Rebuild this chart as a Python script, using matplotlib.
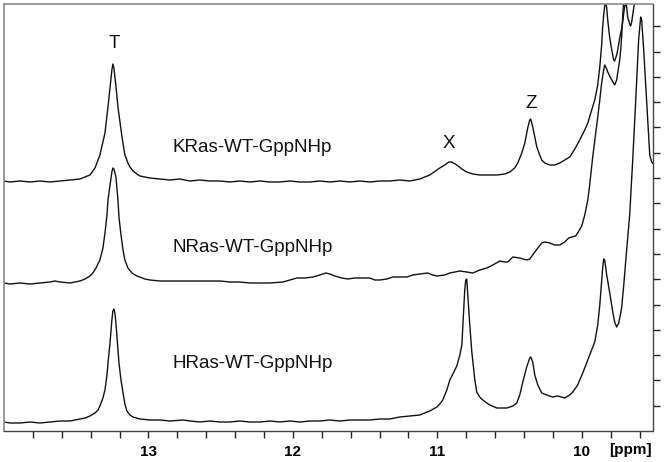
import matplotlib
matplotlib.use("Agg")
import matplotlib.pyplot as plt
import numpy as np

plt.rcParams['font.family'] = ['Liberation Sans', 'DejaVu Sans']

# ---------------- data (chemical shift in ppm, intensity in arbitrary units) -------------
k_ppm = [14.000, 13.958, 13.889, 13.820, 13.751, 13.682, 13.612, 13.543, 13.474, 13.439,
         13.405, 13.370, 13.336, 13.315, 13.301, 13.280, 13.266, 13.253, 13.246, 13.239,
         13.225, 13.211, 13.197, 13.183, 13.163, 13.142, 13.128, 13.107, 13.080, 13.059,
         13.024, 12.990, 12.920, 12.851, 12.782, 12.713, 12.644, 12.574, 12.505, 12.436,
         12.367, 12.298, 12.228, 12.159, 12.090, 12.021, 11.952, 11.882, 11.813, 11.744,
         11.675, 11.606, 11.536, 11.467, 11.398, 11.329, 11.260, 11.190, 11.121, 11.052,
         10.983, 10.948, 10.920, 10.900, 10.865, 10.830, 10.796, 10.754, 10.706, 10.637,
         10.588, 10.533, 10.498, 10.464, 10.443, 10.415, 10.394, 10.374, 10.360, 10.353,
         10.339, 10.325, 10.311, 10.291, 10.277, 10.256, 10.221, 10.187, 10.152, 10.118,
         10.083, 10.048, 10.014, 9.979, 9.958, 9.931, 9.910, 9.889, 9.875, 9.862,
         9.855, 9.848, 9.841, 9.834, 9.827, 9.820, 9.806, 9.792, 9.779, 9.772,
         9.758, 9.751, 9.737, 9.723, 9.716, 9.709, 9.702, 9.695, 9.689, 9.682,
         9.668, 9.661, 9.654, 9.647, 9.640, 9.633, 9.626, 9.612, 9.571, 9.502]
k_int = [250, 249, 250, 249, 250, 249, 250, 251, 252, 254,
         256, 263, 276, 289, 298, 324, 343, 361, 367, 363,
         345, 324, 309, 294, 276, 268, 264, 260, 257, 255,
         254, 253, 252, 251, 252, 250, 251, 250, 250, 249,
         250, 249, 250, 249, 249, 250, 249, 249, 250, 249,
         250, 249, 250, 249, 250, 250, 251, 250, 252, 256,
         263, 266, 269, 269, 266, 262, 259, 257, 256, 256,
         256, 257, 259, 263, 268, 278, 288, 303, 311, 312,
         304, 294, 284, 276, 271, 268, 266, 266, 268, 271,
         274, 282, 291, 301, 308, 321, 331, 346, 364, 386,
         404, 416, 425, 430, 423, 411, 393, 381, 371, 370,
         376, 381, 393, 403, 409, 418, 425, 429, 424, 414,
         407, 405, 409, 416, 423, 429, 436, 451, 471, 491]

n_ppm = [14.000, 13.958, 13.889, 13.820, 13.751, 13.682, 13.647, 13.612, 13.543, 13.474,
         13.439, 13.405, 13.384, 13.363, 13.336, 13.315, 13.301, 13.287, 13.280, 13.266,
         13.253, 13.246, 13.239, 13.225, 13.211, 13.204, 13.190, 13.176, 13.163, 13.142,
         13.114, 13.080, 13.024, 12.990, 12.920, 12.830, 12.713, 12.644, 12.574, 12.505,
         12.436, 12.367, 12.298, 12.228, 12.159, 12.069, 12.021, 11.972, 11.917, 11.862,
         11.813, 11.772, 11.744, 11.709, 11.661, 11.619, 11.571, 11.522, 11.467, 11.433,
         11.398, 11.349, 11.308, 11.260, 11.211, 11.170, 11.121, 11.066, 11.031, 11.003,
         10.948, 10.913, 10.879, 10.844, 10.796, 10.754, 10.706, 10.657, 10.616, 10.567,
         10.533, 10.512, 10.477, 10.429, 10.381, 10.360, 10.325, 10.304, 10.277, 10.256,
         10.221, 10.187, 10.152, 10.118, 10.090, 10.069, 10.042, 10.028, 10.000, 9.979,
         9.958, 9.945, 9.924, 9.903, 9.889, 9.875, 9.862, 9.848, 9.841, 9.827,
         9.820, 9.806, 9.792, 9.772, 9.758, 9.751, 9.737, 9.730, 9.723, 9.716,
         9.709, 9.695, 9.668, 9.502]
n_int = [148, 147, 148, 147, 148, 149, 150, 149, 148, 150,
         152, 155, 158, 163, 171, 183, 198, 216, 231, 246,
         259, 263, 262, 254, 231, 214, 196, 181, 171, 163,
         158, 155, 152, 151, 150, 150, 150, 150, 150, 150,
         149, 149, 148, 148, 148, 149, 151, 153, 153, 154,
         156, 158, 157, 155, 153, 152, 153, 153, 153, 151,
         151, 152, 154, 154, 154, 156, 157, 158, 156, 155,
         156, 158, 159, 160, 159, 158, 161, 163, 166, 170,
         169, 169, 174, 173, 171, 172, 179, 183, 188, 189,
         188, 186, 186, 189, 193, 194, 195, 198, 205, 216,
         231, 246, 274, 298, 314, 331, 348, 361, 366, 362,
         359, 355, 351, 346, 351, 358, 371, 381, 396, 416,
         431, 451, 481, 531]

h_ppm = [14.000, 13.958, 13.889, 13.820, 13.751, 13.682, 13.612, 13.543, 13.474, 13.439,
         13.405, 13.370, 13.349, 13.336, 13.315, 13.301, 13.287, 13.280, 13.266, 13.253,
         13.246, 13.239, 13.232, 13.225, 13.211, 13.204, 13.190, 13.176, 13.163, 13.149,
         13.128, 13.107, 13.059, 12.990, 12.920, 12.851, 12.761, 12.713, 12.644, 12.574,
         12.505, 12.436, 12.367, 12.298, 12.228, 12.159, 12.090, 12.021, 11.952, 11.882,
         11.813, 11.744, 11.675, 11.606, 11.536, 11.467, 11.398, 11.329, 11.260, 11.190,
         11.121, 11.087, 11.052, 11.003, 10.983, 10.962, 10.934, 10.913, 10.879, 10.865,
         10.844, 10.830, 10.817, 10.810, 10.803, 10.796, 10.789, 10.775, 10.761, 10.740,
         10.727, 10.706, 10.685, 10.637, 10.588, 10.519, 10.477, 10.450, 10.429, 10.408,
         10.381, 10.360, 10.353, 10.339, 10.325, 10.304, 10.277, 10.242, 10.201, 10.166,
         10.118, 10.083, 10.062, 10.028, 9.993, 9.958, 9.931, 9.910, 9.889, 9.875,
         9.862, 9.855, 9.848, 9.841, 9.827, 9.806, 9.785, 9.772, 9.758, 9.744,
         9.730, 9.723, 9.709, 9.689, 9.668, 9.647, 9.626, 9.606, 9.592, 9.585,
         9.571, 9.557, 9.543, 9.529, 9.516, 9.502]
h_int = [9, 8, 8, 9, 8, 9, 10, 10, 12, 13,
         15, 18, 21, 25, 33, 41, 56, 68, 88, 111,
         120, 122, 118, 108, 81, 68, 51, 38, 27, 20,
         16, 14, 12, 11, 11, 10, 11, 10, 9, 10,
         9, 9, 10, 9, 9, 10, 9, 10, 9, 10,
         10, 11, 10, 11, 11, 11, 12, 12, 14, 15,
         16, 18, 20, 24, 27, 31, 41, 51, 61, 65,
         76, 86, 121, 141, 151, 152, 136, 106, 79, 51,
         39, 34, 31, 26, 23, 23, 25, 28, 36, 49,
         64, 73, 74, 69, 56, 46, 38, 36, 34, 35,
         33, 36, 39, 46, 58, 71, 81, 89, 106, 126,
         151, 163, 172, 171, 156, 138, 119, 109, 104, 108,
         118, 124, 146, 181, 216, 271, 331, 391, 414, 411,
         381, 346, 311, 276, 269, 267]

spectra = [("KRas-WT-GppNHp", k_ppm, k_int),
           ("NRas-WT-GppNHp", n_ppm, n_int),
           ("HRas-WT-GppNHp", h_ppm, h_int)]

peak_labels = ["T", "X", "Z"]
major_ticks = [13, 12, 11, 10]

# ---------------- figure ----------------
fig = plt.figure(figsize=(6.64, 4.62), dpi=100)
ax = fig.add_axes([4 / 664, 31 / 462, 648.5 / 664, 427 / 462])

for name, x, y in spectra:
    ax.plot(x, y, color="#111111", lw=1.0, solid_joinstyle="round")

ax.set_xlim(14.0, 9.51)
ax.set_ylim(0, 427)

# spectrum names
name_pos = [(12.83, 284), (12.83, 183), (12.83, 68)]
for (name, _, _), (px, py) in zip(spectra, name_pos):
    ax.text(px, py, name, fontsize=13.5, ha="left", va="center", color="#111111")

# peak labels
peak_pos = [(13.239, 388), (10.920, 288), (10.353, 327)]
for lab, (px, py) in zip(peak_labels, peak_pos):
    ax.text(px, py, lab, fontsize=13.5, ha="center", va="center", color="#111111")

# x axis ticks
ax.set_xticks(major_ticks)
ax.set_xticklabels([str(t) for t in major_ticks], fontsize=11, fontweight="bold")
ax.set_xticks(np.arange(9.6, 13.81, 0.2), minor=True)
ax.tick_params(axis="x", which="both", direction="out", length=5, width=1.0,
               color="#222222", pad=5)

# right side ticks only
ax.yaxis.tick_right()
ax.set_yticks(np.arange(1, 17) * 25.3)
ax.set_yticklabels([])
ax.tick_params(axis="y", which="both", direction="out", length=5, width=1.0,
               color="#222222")

for side in ["left", "top"]:
    ax.spines[side].set_color("#8a8a8a")
    ax.spines[side].set_linewidth(1.2)
for side in ["right", "bottom"]:
    ax.spines[side].set_color("#444444")
    ax.spines[side].set_linewidth(1.0)

fig.text(630 / 664, 1 - 450 / 462, "[ppm]", fontsize=11, fontweight="bold",
         ha="center", va="center")

fig.savefig("out.png", dpi=100)
